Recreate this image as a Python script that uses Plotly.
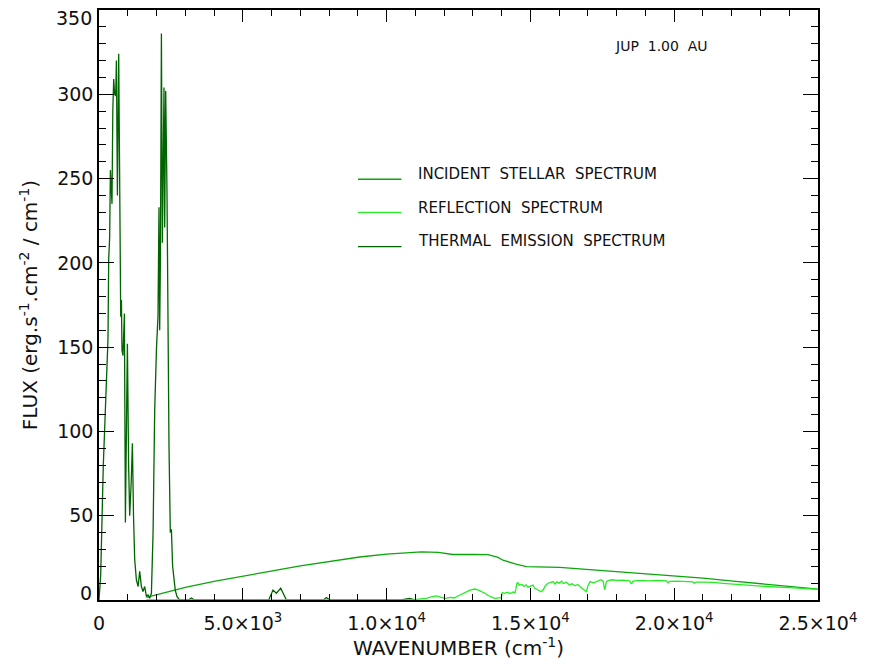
import plotly.graph_objects as go

# ---------------- data ----------------
thermal_x = [0, 59, 150, 250, 313, 337, 370, 396, 430, 452, 480, 511, 545, 581, 605, 640, 685, 720,
             755, 780, 800, 834, 860, 883, 918, 950, 987, 1030, 1067, 1120, 1161, 1200, 1241, 1300,
             1360, 1415, 1474, 1530, 1589, 1650, 1704, 1760, 1822, 1880, 1937, 2000, 2051, 2086,
             2110, 2135, 2170, 2204, 2225, 2260, 2284, 2319, 2364, 2400, 2434, 2480, 2517, 2560,
             2597, 2650, 2712, 2806, 3100, 3213, 3320, 5900, 6050, 6168, 6318, 6516, 7800, 7906,
             8020, 10500, 10800, 11000]
thermal_y = [0, 15, 80, 130, 155, 202, 215, 255, 245, 235, 290, 309, 300, 299, 320, 240, 324, 250,
             168, 178, 148, 145, 160, 170, 46, 120, 152, 80, 50, 70, 93, 50, 24, 12,
             8, 17, 8, 5, 8, 2, 3, 1, 4, 40, 113, 150, 168, 233,
             160, 202, 336, 212, 250, 304, 221, 302, 242, 160, 91, 40, 42, 20,
             14, 6, 2, 0, 0, 1.2, 0, 0, 5.9, 4.0, 7.0, 0, 0, 1.5,
             0, 0, 1.0, 0]

incident_x = [1650, 2000, 2458, 3000, 4000, 5000, 5935, 7000, 8000, 9064, 10000, 11210, 11800,
              12136, 12300, 13000, 13526, 13874, 14048, 14500, 14860, 16019, 17000, 17757,
              18500, 19968, 21000, 22045, 23500, 25000]
incident_y = [1.5, 3.0, 5.3, 7.5, 11.0, 14.3, 17.0, 20.3, 23.0, 25.5, 27.2, 28.6, 28.3,
              27.6, 27.0, 27.1, 26.9, 25.3, 23.6, 21.3, 19.8, 19.3, 18.1, 17.2,
              16.3, 14.6, 13.0, 11.2, 8.8, 6.5]

reflection_x = [1650, 9000, 10800, 11100, 11385, 11550, 11730, 11900, 12050, 12200, 12350, 12500,
                12650, 12775, 12900, 13063, 13200, 13411, 13550, 13759, 13900, 13990, 14020,
                14100, 14200, 14300, 14400, 14460, 14489, 14530, 14570, 14620, 14700, 14780,
                14850, 14920, 15000, 15090, 15150, 15250, 15382, 15450, 15520, 15600, 15700,
                15786, 15850, 15920, 16000, 16080, 16150, 16250, 16350, 16450, 16550, 16650,
                16750, 16850, 16948, 17000, 17080, 17200, 17350, 17450, 17530, 17584, 17640,
                17698, 17850, 18000, 18200, 18400, 18453, 18512, 18570, 18800, 19100, 19400,
                19729, 19780, 19850, 20100, 20400, 20654, 20700, 20760, 21000, 21349, 21700,
                22034, 22500, 23205, 24000, 25000]
reflection_y = [0, 0, 0.2, 0.5, 1.0, 1.8, 2.4, 1.5, 1.0, 1.6, 1.2, 2.5,
                3.8, 4.9, 5.8, 6.5, 5.8, 4.0, 2.5, 1.0, 1.2, 1.4, 4.4,
                4.0, 4.6, 3.8, 4.8, 4.2, 6.0, 9.9, 10.2, 8.8, 9.2, 8.0,
                9.0, 7.5, 8.2, 8.9, 7.0, 6.0, 4.9, 6.2, 8.5, 9.8, 10.5,
                10.9, 9.5, 10.8, 10.0, 11.2, 9.8, 10.5, 9.0, 9.6, 8.4, 9.2,
                7.5, 6.0, 4.9, 8.5, 10.9, 10.2, 11.5, 12.0, 11.0, 6.0, 10.8,
                11.5, 12.0, 11.6, 11.8, 11.5, 11.4, 9.5, 11.2, 11.6, 11.4, 11.7,
                11.4, 10.2, 11.0, 11.2, 11.0, 10.8, 9.9, 10.6, 10.6, 10.5, 9.9,
                9.4, 8.8, 8.0, 7.3, 6.3]

x_tick_vals = [0, 5000, 10000, 15000, 20000, 25000]
x_tick_text = ["0", "5.0×10<sup>3</sup>", "1.0×10<sup>4</sup>", "1.5×10<sup>4</sup>",
               "2.0×10<sup>4</sup>", "2.5×10<sup>4</sup>"]
y_tick_vals = [0, 50, 100, 150, 200, 250, 300, 350]
y_tick_text = ["", "50", "100", "150", "200", "250", "300", ""]
y_end_labels = [(0, "0", 7), (350, "350", -8)]   # end labels nudged inside the axis, as in the reference

legend_names = ["INCIDENT\u00a0 STELLAR\u00a0 SPECTRUM", "REFLECTION\u00a0 SPECTRUM",
                "THERMAL\u00a0 EMISSION\u00a0 SPECTRUM"]
c_incident = "#0aa60a"
c_reflect = "#22ee22"
c_thermal = "#006400"

FONT = "DejaVu Sans"
TXT = "#111111"
TICK_SIZE = 19

fig = go.Figure()
fig.add_trace(go.Scatter(x=incident_x, y=incident_y, mode="lines",
                         line=dict(color=c_incident, width=1.3), name=legend_names[0]))
fig.add_trace(go.Scatter(x=thermal_x, y=thermal_y, mode="lines",
                         line=dict(color=c_thermal, width=1.3), name=legend_names[2]))
fig.add_trace(go.Scatter(x=reflection_x, y=reflection_y, mode="lines",
                         line=dict(color=c_reflect, width=1.3), name=legend_names[1]))

# manual legend (line samples + text) in paper coordinates
leg_y_line = [0.7131, 0.6571, 0.5988]
leg_y_text = [0.7215, 0.6639, 0.6090]
leg_cols = [c_incident, c_reflect, c_thermal]
for name, yl, yt, col in zip(legend_names, leg_y_line, leg_y_text, leg_cols):
    fig.add_shape(type="line", xref="paper", yref="paper", x0=0.3602, x1=0.4206, y0=yl, y1=yl,
                  line=dict(color=col, width=1.3))
    fig.add_annotation(text=name, xref="paper", yref="paper", x=0.4414, y=yt,
                       xanchor="left", yanchor="middle", showarrow=False,
                       font=dict(family=FONT, size=15, color=TXT))

fig.add_annotation(text="JUP\u00a0 1.00\u00a0 AU", xref="paper", yref="paper", x=0.7829, y=0.939,
                   xanchor="center", yanchor="middle", showarrow=False,
                   font=dict(family=FONT, size=14, color=TXT))

for val, txt, shift in y_end_labels:
    fig.add_annotation(text=txt, xref="paper", yref="y", x=0, y=val, xanchor="right",
                       yanchor="middle", xshift=-5, yshift=shift, showarrow=False,
                       font=dict(family=FONT, size=TICK_SIZE, color=TXT))

axis_common = dict(showgrid=False, zeroline=False, showline=True, linecolor="black", linewidth=1.5,
                   mirror="allticks", ticks="inside", tickcolor="black", tickwidth=1.2,
                   automargin=False, ticklabeloverflow="allow",
                   tickfont=dict(family=FONT, size=TICK_SIZE, color=TXT))

fig.update_xaxes(range=[0, 25000], tickvals=x_tick_vals, ticktext=x_tick_text, ticklen=12,
                 ticklabelstandoff=5,
                 minor=dict(dtick=1000, ticks="inside", ticklen=6, tickcolor="black", tickwidth=1.2),
                 title=dict(text="WAVENUMBER (cm<sup>-1</sup>)", font=dict(family=FONT, size=20, color=TXT),
                            standoff=3),
                 **axis_common)
fig.update_yaxes(range=[0, 350], tickvals=y_tick_vals, ticktext=y_tick_text, ticklen=15,
                 minor=dict(dtick=10, ticks="inside", ticklen=7, tickcolor="black", tickwidth=1.2),
                 title=dict(text="FLUX (erg.s<sup>-1</sup>.cm<sup>-2</sup> / cm<sup>-1</sup>)",
                            font=dict(family=FONT, size=20, color=TXT), standoff=14),
                 **axis_common)

# page body has an 8px default margin; size the figure so the plot box lands where the reference's does
fig.update_layout(width=861, height=661, paper_bgcolor="white", plot_bgcolor="white",
                  showlegend=False, margin=dict(l=91, r=51, t=2, b=69, autoexpand=False))

fig.write_html("out.html")
